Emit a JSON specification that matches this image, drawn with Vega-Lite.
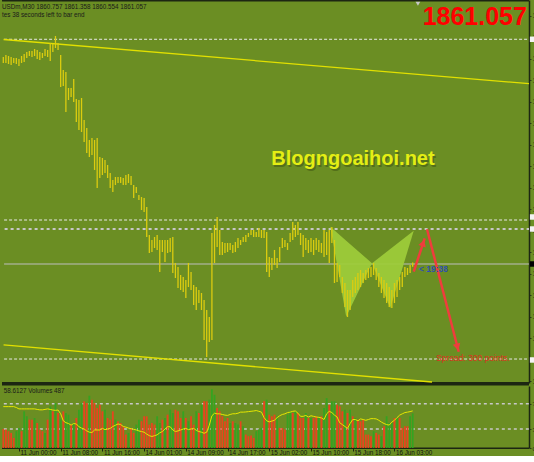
{
"$schema": "https://vega.github.io/schema/vega-lite/v6.json",
"background": "#6B8E23",
"padding": 0,
"spacing": 0,
"config": {"view": {"stroke": null}, "axis": {"grid": false}, "scale": {"continuousPadding": 0}},
"datasets": {
"bars": [
{"i":0,"h":1899.90,"l":1898.77,"v":268,"d":"dn","r":65.4},
{"i":1,"h":1900.27,"l":1898.77,"v":259,"d":"dn","r":65.4},
{"i":2,"h":1900.08,"l":1898.58,"v":236,"d":"dn","r":65.4},
{"i":3,"h":1899.90,"l":1898.39,"v":212,"d":"dn","r":65.4},
{"i":4,"h":1899.71,"l":1898.77,"v":142,"d":"dn","r":65.4},
{"i":5,"h":1899.71,"l":1898.58,"v":236,"d":"up","r":64},
{"i":6,"h":1899.52,"l":1898.21,"v":282,"d":"up","r":61.8},
{"i":7,"h":1900.08,"l":1898.77,"v":236,"d":"dn","r":61.8},
{"i":8,"h":1900.46,"l":1898.96,"v":516,"d":"up","r":61.8},
{"i":9,"h":1900.83,"l":1899.71,"v":446,"d":"up","r":61.8},
{"i":10,"h":1901.02,"l":1900.08,"v":399,"d":"dn","r":61.8},
{"i":11,"h":1901.02,"l":1899.90,"v":399,"d":"dn","r":61.8},
{"i":12,"h":1901.40,"l":1900.08,"v":422,"d":"up","r":61.8},
{"i":13,"h":1901.21,"l":1899.52,"v":352,"d":"dn","r":61},
{"i":14,"h":1900.83,"l":1899.33,"v":259,"d":"dn","r":60.3},
{"i":15,"h":1900.65,"l":1899.71,"v":236,"d":"dn","r":60.3},
{"i":16,"h":1901.40,"l":1900.08,"v":212,"d":"up","r":61},
{"i":17,"h":1901.21,"l":1899.90,"v":399,"d":"dn","r":61.8},
{"i":18,"h":1902.52,"l":1899.15,"v":586,"d":"up","r":61},
{"i":19,"h":1902.33,"l":1900.83,"v":516,"d":"dn","r":60},
{"i":20,"h":1903.84,"l":1901.58,"v":632,"d":"up","r":59.5},
{"i":21,"h":1902.52,"l":1901.21,"v":492,"d":"dn","r":60},
{"i":22,"h":1900.27,"l":1894.27,"v":399,"d":"up","r":54.1},
{"i":23,"h":1897.46,"l":1894.46,"v":516,"d":"dn","r":43},
{"i":24,"h":1897.08,"l":1889.58,"v":492,"d":"up","r":40},
{"i":25,"h":1894.08,"l":1891.83,"v":469,"d":"up","r":38.7},
{"i":26,"h":1894.08,"l":1892.39,"v":329,"d":"dn","r":36.2},
{"i":27,"h":1895.77,"l":1891.45,"v":352,"d":"up","r":38.7},
{"i":28,"h":1892.02,"l":1887.70,"v":422,"d":"dn","r":38},
{"i":29,"h":1891.83,"l":1886.20,"v":539,"d":"up","r":33.6},
{"i":30,"h":1892.20,"l":1885.82,"v":632,"d":"up","r":31.5},
{"i":31,"h":1888.08,"l":1883.95,"v":656,"d":"dn","r":30},
{"i":32,"h":1886.58,"l":1881.88,"v":632,"d":"dn","r":27},
{"i":33,"h":1884.32,"l":1881.13,"v":735,"d":"up","r":25},
{"i":34,"h":1884.70,"l":1881.51,"v":679,"d":"dn","r":24.5},
{"i":35,"h":1884.32,"l":1878.70,"v":632,"d":"dn","r":28.5},
{"i":36,"h":1884.70,"l":1875.32,"v":562,"d":"dn","r":28.5},
{"i":37,"h":1881.13,"l":1877.19,"v":609,"d":"dn","r":28.5},
{"i":38,"h":1880.95,"l":1877.76,"v":516,"d":"dn","r":31},
{"i":39,"h":1880.57,"l":1878.13,"v":539,"d":"up","r":29},
{"i":40,"h":1879.63,"l":1877.19,"v":422,"d":"dn","r":30},
{"i":41,"h":1878.13,"l":1875.32,"v":399,"d":"dn","r":31},
{"i":42,"h":1876.82,"l":1874.57,"v":516,"d":"dn","r":34},
{"i":43,"h":1877.38,"l":1875.88,"v":399,"d":"up","r":36},
{"i":44,"h":1877.38,"l":1876.26,"v":376,"d":"dn","r":38},
{"i":45,"h":1877.38,"l":1876.26,"v":352,"d":"dn","r":37},
{"i":46,"h":1877.19,"l":1875.88,"v":306,"d":"dn","r":34},
{"i":47,"h":1877.76,"l":1875.88,"v":189,"d":"dn","r":33},
{"i":48,"h":1877.94,"l":1876.26,"v":212,"d":"up","r":31.5},
{"i":49,"h":1877.57,"l":1875.88,"v":282,"d":"dn","r":30.5},
{"i":50,"h":1875.88,"l":1873.44,"v":212,"d":"dn","r":29.5},
{"i":51,"h":1875.51,"l":1874.38,"v":329,"d":"up","r":28.5},
{"i":52,"h":1874.00,"l":1873.07,"v":399,"d":"up","r":27},
{"i":53,"h":1873.63,"l":1871.19,"v":376,"d":"dn","r":26},
{"i":54,"h":1873.44,"l":1870.82,"v":446,"d":"dn","r":25},
{"i":55,"h":1871.75,"l":1866.12,"v":446,"d":"dn","r":22},
{"i":56,"h":1866.50,"l":1863.12,"v":329,"d":"dn","r":19.5},
{"i":57,"h":1865.56,"l":1863.31,"v":352,"d":"dn","r":18.2},
{"i":58,"h":1866.12,"l":1864.06,"v":329,"d":"dn","r":19.5},
{"i":59,"h":1866.50,"l":1863.69,"v":446,"d":"up","r":20.8},
{"i":60,"h":1865.56,"l":1859.56,"v":352,"d":"up","r":24},
{"i":61,"h":1865.56,"l":1863.31,"v":399,"d":"dn","r":26},
{"i":62,"h":1865.56,"l":1861.43,"v":422,"d":"up","r":30},
{"i":63,"h":1865.56,"l":1863.12,"v":469,"d":"dn","r":33.6},
{"i":64,"h":1865.94,"l":1863.31,"v":539,"d":"up","r":33.6},
{"i":65,"h":1866.12,"l":1859.37,"v":492,"d":"up","r":28.5},
{"i":66,"h":1861.25,"l":1858.43,"v":539,"d":"dn","r":26},
{"i":67,"h":1860.50,"l":1856.56,"v":516,"d":"dn","r":27},
{"i":68,"h":1858.99,"l":1856.18,"v":422,"d":"dn","r":28.5},
{"i":69,"h":1858.62,"l":1855.81,"v":516,"d":"up","r":30},
{"i":70,"h":1858.06,"l":1854.68,"v":422,"d":"dn","r":31},
{"i":71,"h":1861.25,"l":1856.74,"v":376,"d":"up","r":29},
{"i":72,"h":1859.56,"l":1856.18,"v":446,"d":"dn","r":30},
{"i":73,"h":1857.12,"l":1853.37,"v":329,"d":"dn","r":31},
{"i":74,"h":1856.74,"l":1852.43,"v":516,"d":"up","r":28},
{"i":75,"h":1856.18,"l":1853.74,"v":492,"d":"dn","r":26},
{"i":76,"h":1855.62,"l":1852.43,"v":609,"d":"up","r":25},
{"i":77,"h":1854.30,"l":1846.80,"v":656,"d":"dn","r":23.3},
{"i":78,"h":1852.43,"l":1843.61,"v":656,"d":"dn","r":25},
{"i":79,"h":1851.11,"l":1846.42,"v":679,"d":"up","r":36.2},
{"i":80,"h":1866.87,"l":1846.80,"v":828,"d":"up","r":51},
{"i":81,"h":1868.38,"l":1861.25,"v":749,"d":"up","r":55},
{"i":82,"h":1869.88,"l":1864.25,"v":562,"d":"dn","r":54},
{"i":83,"h":1867.44,"l":1862.75,"v":516,"d":"dn","r":54},
{"i":84,"h":1865.19,"l":1862.75,"v":446,"d":"dn","r":53},
{"i":85,"h":1865.00,"l":1863.12,"v":376,"d":"dn","r":52},
{"i":86,"h":1865.00,"l":1863.31,"v":422,"d":"dn","r":51.5},
{"i":87,"h":1865.00,"l":1863.69,"v":352,"d":"up","r":53},
{"i":88,"h":1864.62,"l":1863.12,"v":376,"d":"dn","r":54.1},
{"i":89,"h":1865.19,"l":1863.31,"v":352,"d":"up","r":54.1},
{"i":90,"h":1865.94,"l":1864.06,"v":329,"d":"up","r":55},
{"i":91,"h":1865.56,"l":1864.62,"v":376,"d":"dn","r":56.7},
{"i":92,"h":1866.12,"l":1865.19,"v":306,"d":"up","r":56.7},
{"i":93,"h":1866.50,"l":1865.19,"v":189,"d":"dn","r":57},
{"i":94,"h":1866.87,"l":1866.12,"v":166,"d":"dn","r":57.5},
{"i":95,"h":1867.44,"l":1866.50,"v":175,"d":"dn","r":58},
{"i":96,"h":1867.44,"l":1866.12,"v":142,"d":"dn","r":58.5},
{"i":97,"h":1867.06,"l":1866.12,"v":236,"d":"up","r":59.2},
{"i":98,"h":1867.81,"l":1866.12,"v":259,"d":"up","r":58},
{"i":99,"h":1867.44,"l":1865.94,"v":282,"d":"up","r":56.7},
{"i":100,"h":1867.44,"l":1865.94,"v":656,"d":"dn","r":48},
{"i":101,"h":1867.06,"l":1859.56,"v":679,"d":"up","r":43},
{"i":102,"h":1862.37,"l":1858.62,"v":470,"d":"dn","r":41.3},
{"i":103,"h":1862.18,"l":1859.93,"v":446,"d":"dn","r":42.5},
{"i":104,"h":1863.69,"l":1860.87,"v":469,"d":"dn","r":44},
{"i":105,"h":1862.18,"l":1860.31,"v":446,"d":"up","r":48},
{"i":106,"h":1864.25,"l":1861.43,"v":282,"d":"dn","r":51},
{"i":107,"h":1865.94,"l":1864.06,"v":282,"d":"dn","r":53},
{"i":108,"h":1865.56,"l":1864.25,"v":259,"d":"dn","r":54},
{"i":109,"h":1865.00,"l":1863.69,"v":469,"d":"up","r":56},
{"i":110,"h":1866.87,"l":1865.19,"v":516,"d":"up","r":56.7},
{"i":111,"h":1868.94,"l":1865.56,"v":492,"d":"dn","r":58},
{"i":112,"h":1868.38,"l":1866.12,"v":516,"d":"up","r":58.5},
{"i":113,"h":1868.94,"l":1866.50,"v":492,"d":"dn","r":55},
{"i":114,"h":1866.87,"l":1864.62,"v":422,"d":"dn","r":50},
{"i":115,"h":1866.50,"l":1862.37,"v":422,"d":"dn","r":50},
{"i":116,"h":1865.94,"l":1863.69,"v":492,"d":"up","r":51.5},
{"i":117,"h":1865.56,"l":1863.12,"v":422,"d":"dn","r":49},
{"i":118,"h":1865.94,"l":1863.31,"v":422,"d":"up","r":51},
{"i":119,"h":1865.56,"l":1862.75,"v":422,"d":"dn","r":50},
{"i":120,"h":1865.94,"l":1863.69,"v":446,"d":"dn","r":49},
{"i":121,"h":1865.56,"l":1863.31,"v":422,"d":"up","r":48.5},
{"i":122,"h":1865.00,"l":1863.12,"v":446,"d":"dn","r":47.5},
{"i":123,"h":1867.44,"l":1862.37,"v":562,"d":"up","r":45},
{"i":124,"h":1867.06,"l":1862.75,"v":702,"d":"up","r":54.1},
{"i":125,"h":1867.44,"l":1861.25,"v":609,"d":"dn","r":58},
{"i":126,"h":1868.00,"l":1865.00,"v":656,"d":"up","r":56},
{"i":127,"h":1865.56,"l":1857.49,"v":656,"d":"up","r":52},
{"i":128,"h":1861.25,"l":1857.68,"v":609,"d":"dn","r":49},
{"i":129,"h":1860.87,"l":1858.62,"v":586,"d":"dn","r":40},
{"i":130,"h":1858.62,"l":1855.62,"v":516,"d":"dn","r":37},
{"i":131,"h":1857.49,"l":1852.99,"v":539,"d":"up","r":34},
{"i":132,"h":1856.18,"l":1851.11,"v":492,"d":"dn","r":31},
{"i":133,"h":1856.18,"l":1852.43,"v":539,"d":"up","r":38.7},
{"i":134,"h":1858.06,"l":1854.87,"v":446,"d":"dn","r":45},
{"i":135,"h":1858.62,"l":1855.62,"v":422,"d":"up","r":45},
{"i":136,"h":1859.37,"l":1856.18,"v":399,"d":"dn","r":43},
{"i":137,"h":1859.93,"l":1856.74,"v":376,"d":"dn","r":46},
{"i":138,"h":1859.37,"l":1857.49,"v":399,"d":"dn","r":45},
{"i":139,"h":1859.93,"l":1858.06,"v":189,"d":"dn","r":43.8},
{"i":140,"h":1860.31,"l":1858.43,"v":189,"d":"dn","r":45},
{"i":141,"h":1860.50,"l":1858.62,"v":166,"d":"dn","r":46.4},
{"i":142,"h":1861.25,"l":1858.99,"v":236,"d":"up","r":46.4},
{"i":143,"h":1860.31,"l":1858.06,"v":212,"d":"dn","r":46},
{"i":144,"h":1859.37,"l":1856.74,"v":189,"d":"dn","r":43.8},
{"i":145,"h":1858.62,"l":1855.62,"v":166,"d":"up","r":41},
{"i":146,"h":1858.06,"l":1854.68,"v":306,"d":"dn","r":38.7},
{"i":147,"h":1857.49,"l":1853.74,"v":446,"d":"up","r":37},
{"i":148,"h":1856.74,"l":1852.99,"v":352,"d":"up","r":36.2},
{"i":149,"h":1856.18,"l":1852.80,"v":352,"d":"up","r":41},
{"i":150,"h":1857.49,"l":1853.74,"v":422,"d":"dn","r":43.8},
{"i":151,"h":1858.06,"l":1854.87,"v":422,"d":"up","r":48},
{"i":152,"h":1858.62,"l":1856.18,"v":422,"d":"dn","r":52},
{"i":153,"h":1859.56,"l":1856.74,"v":282,"d":"dn","r":54},
{"i":154,"h":1860.50,"l":1858.62,"v":306,"d":"dn","r":56},
{"i":155,"h":1860.31,"l":1858.99,"v":306,"d":"dn","r":56.7},
{"i":156,"h":1860.87,"l":1859.37,"v":446,"d":"up","r":57.5},
{"i":157,"h":1861.358,"l":1860.554,"v":487,"d":"up","r":58.6127}
]
},
"vconcat": [
{
"width": 527,
"height": 383,
"layer": [
{"data": {"values": [{"a":0.3,"b":201.6,"p":1903.22},{"a":0.3,"b":201.6,"p":1869.31},{"a":0.3,"b":201.6,"p":1843.23}]},
 "mark": {"type":"rule","color":"#E8E8E8","strokeWidth":1,"strokeDash":[3,2]},
 "encoding": {"x": {"field":"a","type":"quantitative","scale":{"domain":[-0.5,201.6],"zero":false,"nice":false,"padding":0},"axis":null},
  "x2": {"field":"b"},
  "y": {"field":"p","type":"quantitative","scale":{"domain":[1838.73,1910.59],"zero":false,"nice":false},
   "axis":{"orient":"right","title":null,"values":[1907.66,1903.63,1899.59,1895.56,1891.52,1887.49,1883.45,1879.42,1875.39,1871.35,1867.32,1863.28,1859.25,1855.21,1851.18,1847.14,1843.11,1839.08],"labelExpr":"'1'","labelFontSize":7,"labelColor":"#1E2A12","labelPadding":1,"tickSize":2,"tickColor":"#2E3A1C","domainColor":"#1C2612","domainWidth":1.5,"labelBound":false,"labelOverlap":false,"labelFlush":false}}}},
{"data": {"values": [{"a":0.5,"b":201.6,"p":1867.62}]},
 "mark": {"type":"rule","color":"#C6C6C6","strokeWidth":2,"strokeDash":[3,3]},
 "encoding": {"x": {"field":"a","type":"quantitative","scale":{"domain":[-0.5,201.6],"zero":false,"nice":false,"padding":0},"axis":null},
  "x2": {"field":"b"},
  "y": {"field":"p","type":"quantitative","scale":{"domain":[1838.73,1910.59],"zero":false,"nice":false},
   "axis":{"orient":"right","title":null,"values":[1907.66,1903.63,1899.59,1895.56,1891.52,1887.49,1883.45,1879.42,1875.39,1871.35,1867.32,1863.28,1859.25,1855.21,1851.18,1847.14,1843.11,1839.08],"labelExpr":"'1'","labelFontSize":7,"labelColor":"#1E2A12","labelPadding":1,"tickSize":2,"tickColor":"#2E3A1C","domainColor":"#1C2612","domainWidth":1.5,"labelBound":false,"labelOverlap":false,"labelFlush":false}}}},
{"data": {"values": [{"a":0.3,"b":201.6,"p":1861.057}]},
 "mark": {"type":"rule","color":"#BEBEBE","strokeWidth":1},
 "encoding": {"x": {"field":"a","type":"quantitative","scale":{"domain":[-0.5,201.6],"zero":false,"nice":false,"padding":0},"axis":null},
  "x2": {"field":"b"},
  "y": {"field":"p","type":"quantitative","scale":{"domain":[1838.73,1910.59],"zero":false,"nice":false},
   "axis":{"orient":"right","title":null,"values":[1907.66,1903.63,1899.59,1895.56,1891.52,1887.49,1883.45,1879.42,1875.39,1871.35,1867.32,1863.28,1859.25,1855.21,1851.18,1847.14,1843.11,1839.08],"labelExpr":"'1'","labelFontSize":7,"labelColor":"#1E2A12","labelPadding":1,"tickSize":2,"tickColor":"#2E3A1C","domainColor":"#1C2612","domainWidth":1.5,"labelBound":false,"labelOverlap":false,"labelFlush":false}}}},
{"data": {"values": [{"a":-0.5,"b":201.6,"p":1910.59,"p2":1910.31},{"a":-0.5,"b":201.6,"p":1838.92,"p2":1838.26}]},
 "mark": {"type":"rect","color":"#1C2612"},
 "encoding": {"x": {"field":"a","type":"quantitative","scale":{"domain":[-0.5,201.6],"zero":false,"nice":false,"padding":0},"axis":null},
  "x2": {"field":"b"},
  "y": {"field":"p","type":"quantitative","scale":{"domain":[1838.73,1910.59],"zero":false,"nice":false},
   "axis":{"orient":"right","title":null,"values":[1907.66,1903.63,1899.59,1895.56,1891.52,1887.49,1883.45,1879.42,1875.39,1871.35,1867.32,1863.28,1859.25,1855.21,1851.18,1847.14,1843.11,1839.08],"labelExpr":"'1'","labelFontSize":7,"labelColor":"#1E2A12","labelPadding":1,"tickSize":2,"tickColor":"#2E3A1C","domainColor":"#1C2612","domainWidth":1.5,"labelBound":false,"labelOverlap":false,"labelFlush":false}},
  "y2": {"field":"p2"}}},
{"data": {"values": [{"c":"u","i":0.1,"p":1903.18},{"c":"u","i":201.6,"p":1894.89},{"c":"l","i":0.1,"p":1845.88},{"c":"l","i":164.4,"p":1838.92}]},
 "mark": {"type":"line","color":"#E2E000","strokeWidth":1.3},
 "encoding": {"x": {"field":"i","type":"quantitative","scale":{"domain":[-0.5,201.6],"zero":false,"nice":false,"padding":0},"axis":null},
  "y": {"field":"p","type":"quantitative","scale":{"domain":[1838.73,1910.59],"zero":false,"nice":false},
   "axis":{"orient":"right","title":null,"values":[1907.66,1903.63,1899.59,1895.56,1891.52,1887.49,1883.45,1879.42,1875.39,1871.35,1867.32,1863.28,1859.25,1855.21,1851.18,1847.14,1843.11,1839.08],"labelExpr":"'1'","labelFontSize":7,"labelColor":"#1E2A12","labelPadding":1,"tickSize":2,"tickColor":"#2E3A1C","domainColor":"#1C2612","domainWidth":1.5,"labelBound":false,"labelOverlap":false,"labelFlush":false}},
  "detail": {"field":"c","type":"nominal"}}},
{"data": {"values": [{"t":1,"i":125.4,"a":1868.06,"b":1868.06},{"t":1,"i":131.5,"a":1865.44,"b":1851.17},{"t":1,"i":141.4,"a":1861.19,"b":1861.19},{"t":2,"i":141.4,"a":1861.19,"b":1861.19},{"t":2,"i":148.4,"a":1863.87,"b":1852.75},{"t":2,"i":157.4,"a":1867.31,"b":1867.31}]},
 "mark": {"type":"area","color":"#9DCB3A","opacity":0.95},
 "encoding": {"x": {"field":"i","type":"quantitative","scale":{"domain":[-0.5,201.6],"zero":false,"nice":false,"padding":0},"axis":null},
  "y": {"field":"a","type":"quantitative","scale":{"domain":[1838.73,1910.59],"zero":false,"nice":false},
   "axis":{"orient":"right","title":null,"values":[1907.66,1903.63,1899.59,1895.56,1891.52,1887.49,1883.45,1879.42,1875.39,1871.35,1867.32,1863.28,1859.25,1855.21,1851.18,1847.14,1843.11,1839.08],"labelExpr":"'1'","labelFontSize":7,"labelColor":"#1E2A12","labelPadding":1,"tickSize":2,"tickColor":"#2E3A1C","domainColor":"#1C2612","domainWidth":1.5,"labelBound":false,"labelOverlap":false,"labelFlush":false}},
  "y2": {"field":"b"},
  "detail": {"field":"t","type":"nominal"}}},
{"data": {"name":"bars"},
 "mark": {"type":"rule","color":"#DCCC10","strokeWidth":1.3},
 "encoding": {"x": {"field":"i","type":"quantitative","scale":{"domain":[-0.5,201.6],"zero":false,"nice":false,"padding":0},"axis":null},
  "y": {"field":"h","type":"quantitative","scale":{"domain":[1838.73,1910.59],"zero":false,"nice":false},
   "axis":{"orient":"right","title":null,"values":[1907.66,1903.63,1899.59,1895.56,1891.52,1887.49,1883.45,1879.42,1875.39,1871.35,1867.32,1863.28,1859.25,1855.21,1851.18,1847.14,1843.11,1839.08],"labelExpr":"'1'","labelFontSize":7,"labelColor":"#1E2A12","labelPadding":1,"tickSize":2,"tickColor":"#2E3A1C","domainColor":"#1C2612","domainWidth":1.5,"labelBound":false,"labelOverlap":false,"labelFlush":false}},
  "y2": {"field":"l"}}},
{"data": {"values": [{"i":157.4,"p":1859.61,"i2":161.6,"p2":1865.88},{"i":162.5,"p":1867.57,"i2":174.64,"p2":1844.6}]},
 "mark": {"type":"rule","color":"#F03C3C","strokeWidth":2.5},
 "encoding": {"x": {"field":"i","type":"quantitative","scale":{"domain":[-0.5,201.6],"zero":false,"nice":false,"padding":0},"axis":null},
  "x2": {"field":"i2"},
  "y": {"field":"p","type":"quantitative","scale":{"domain":[1838.73,1910.59],"zero":false,"nice":false},
   "axis":{"orient":"right","title":null,"values":[1907.66,1903.63,1899.59,1895.56,1891.52,1887.49,1883.45,1879.42,1875.39,1871.35,1867.32,1863.28,1859.25,1855.21,1851.18,1847.14,1843.11,1839.08],"labelExpr":"'1'","labelFontSize":7,"labelColor":"#1E2A12","labelPadding":1,"tickSize":2,"tickColor":"#2E3A1C","domainColor":"#1C2612","domainWidth":1.5,"labelBound":false,"labelOverlap":false,"labelFlush":false}},
  "y2": {"field":"p2"}}},
{"data": {"values": [{"i":161.0,"p":1864.98}]},
 "mark": {"type":"point","shape":"triangle-up","filled":true,"color":"#F03C3C","size":60,"angle":18,"opacity":1},
 "encoding": {"x": {"field":"i","type":"quantitative","scale":{"domain":[-0.5,201.6],"zero":false,"nice":false,"padding":0},"axis":null},
  "y": {"field":"p","type":"quantitative","scale":{"domain":[1838.73,1910.59],"zero":false,"nice":false},
   "axis":{"orient":"right","title":null,"values":[1907.66,1903.63,1899.59,1895.56,1891.52,1887.49,1883.45,1879.42,1875.39,1871.35,1867.32,1863.28,1859.25,1855.21,1851.18,1847.14,1843.11,1839.08],"labelExpr":"'1'","labelFontSize":7,"labelColor":"#1E2A12","labelPadding":1,"tickSize":2,"tickColor":"#2E3A1C","domainColor":"#1C2612","domainWidth":1.5,"labelBound":false,"labelOverlap":false,"labelFlush":false}}}},
{"data": {"values": [{"i":174.14,"p":1845.5}]},
 "mark": {"type":"point","shape":"triangle-up","filled":true,"color":"#F03C3C","size":60,"angle":165,"opacity":1},
 "encoding": {"x": {"field":"i","type":"quantitative","scale":{"domain":[-0.5,201.6],"zero":false,"nice":false,"padding":0},"axis":null},
  "y": {"field":"p","type":"quantitative","scale":{"domain":[1838.73,1910.59],"zero":false,"nice":false},
   "axis":{"orient":"right","title":null,"values":[1907.66,1903.63,1899.59,1895.56,1891.52,1887.49,1883.45,1879.42,1875.39,1871.35,1867.32,1863.28,1859.25,1855.21,1851.18,1847.14,1843.11,1839.08],"labelExpr":"'1'","labelFontSize":7,"labelColor":"#1E2A12","labelPadding":1,"tickSize":2,"tickColor":"#2E3A1C","domainColor":"#1C2612","domainWidth":1.5,"labelBound":false,"labelOverlap":false,"labelFlush":false}}}},
{"data": {"values": [{"i":-0.5,"p":1909.28,"t":"USDm,M30  1860.757 1861.358 1860.554 1861.057"},{"i":-0.5,"p":1907.78,"t":"tes 38 seconds left to bar end"}]},
 "mark": {"type":"text","align":"left","baseline":"middle","font":"Liberation Sans","fontSize":6.3,"color":"#1A1A1A"},
 "encoding": {"x": {"field":"i","type":"quantitative","scale":{"domain":[-0.5,201.6],"zero":false,"nice":false,"padding":0},"axis":null},
  "y": {"field":"p","type":"quantitative","scale":{"domain":[1838.73,1910.59],"zero":false,"nice":false},
   "axis":{"orient":"right","title":null,"values":[1907.66,1903.63,1899.59,1895.56,1891.52,1887.49,1883.45,1879.42,1875.39,1871.35,1867.32,1863.28,1859.25,1855.21,1851.18,1847.14,1843.11,1839.08],"labelExpr":"'1'","labelFontSize":7,"labelColor":"#1E2A12","labelPadding":1,"tickSize":2,"tickColor":"#2E3A1C","domainColor":"#1C2612","domainWidth":1.5,"labelBound":false,"labelOverlap":false,"labelFlush":false}},
  "text": {"field":"t"}}},
{"data": {"values": [{"i":200.8,"p":1907.4,"t":"1861.057"}]},
 "mark": {"type":"text","align":"right","baseline":"middle","font":"Liberation Sans","fontSize":25,"fontWeight":"bold","color":"#FF0000"},
 "encoding": {"x": {"field":"i","type":"quantitative","scale":{"domain":[-0.5,201.6],"zero":false,"nice":false,"padding":0},"axis":null},
  "y": {"field":"p","type":"quantitative","scale":{"domain":[1838.73,1910.59],"zero":false,"nice":false},
   "axis":{"orient":"right","title":null,"values":[1907.66,1903.63,1899.59,1895.56,1891.52,1887.49,1883.45,1879.42,1875.39,1871.35,1867.32,1863.28,1859.25,1855.21,1851.18,1847.14,1843.11,1839.08],"labelExpr":"'1'","labelFontSize":7,"labelColor":"#1E2A12","labelPadding":1,"tickSize":2,"tickColor":"#2E3A1C","domainColor":"#1C2612","domainWidth":1.5,"labelBound":false,"labelOverlap":false,"labelFlush":false}},
  "text": {"field":"t"}}},
{"data": {"values": [{"i":134.1,"p":1880.7,"t":"Blogngoaihoi.net"}]},
 "mark": {"type":"text","align":"center","baseline":"middle","font":"Liberation Sans","fontSize":20,"fontWeight":"bold","color":"#4E6818","dx":1.5,"dy":1.5,"opacity":0.8},
 "encoding": {"x": {"field":"i","type":"quantitative","scale":{"domain":[-0.5,201.6],"zero":false,"nice":false,"padding":0},"axis":null},
  "y": {"field":"p","type":"quantitative","scale":{"domain":[1838.73,1910.59],"zero":false,"nice":false},
   "axis":{"orient":"right","title":null,"values":[1907.66,1903.63,1899.59,1895.56,1891.52,1887.49,1883.45,1879.42,1875.39,1871.35,1867.32,1863.28,1859.25,1855.21,1851.18,1847.14,1843.11,1839.08],"labelExpr":"'1'","labelFontSize":7,"labelColor":"#1E2A12","labelPadding":1,"tickSize":2,"tickColor":"#2E3A1C","domainColor":"#1C2612","domainWidth":1.5,"labelBound":false,"labelOverlap":false,"labelFlush":false}},
  "text": {"field":"t"}}},
{"data": {"values": [{"i":134.1,"p":1880.7,"t":"Blogngoaihoi.net"}]},
 "mark": {"type":"text","align":"center","baseline":"middle","font":"Liberation Sans","fontSize":20,"fontWeight":"bold","color":"#E4EE14"},
 "encoding": {"x": {"field":"i","type":"quantitative","scale":{"domain":[-0.5,201.6],"zero":false,"nice":false,"padding":0},"axis":null},
  "y": {"field":"p","type":"quantitative","scale":{"domain":[1838.73,1910.59],"zero":false,"nice":false},
   "axis":{"orient":"right","title":null,"values":[1907.66,1903.63,1899.59,1895.56,1891.52,1887.49,1883.45,1879.42,1875.39,1871.35,1867.32,1863.28,1859.25,1855.21,1851.18,1847.14,1843.11,1839.08],"labelExpr":"'1'","labelFontSize":7,"labelColor":"#1E2A12","labelPadding":1,"tickSize":2,"tickColor":"#2E3A1C","domainColor":"#1C2612","domainWidth":1.5,"labelBound":false,"labelOverlap":false,"labelFlush":false}},
  "text": {"field":"t"}}},
{"data": {"values": [{"i":159.4,"p":1860.12,"t":"< 19:38"}]},
 "mark": {"type":"text","align":"left","baseline":"middle","font":"Liberation Sans","fontSize":8.5,"fontWeight":"bold","color":"#3050B0"},
 "encoding": {"x": {"field":"i","type":"quantitative","scale":{"domain":[-0.5,201.6],"zero":false,"nice":false,"padding":0},"axis":null},
  "y": {"field":"p","type":"quantitative","scale":{"domain":[1838.73,1910.59],"zero":false,"nice":false},
   "axis":{"orient":"right","title":null,"values":[1907.66,1903.63,1899.59,1895.56,1891.52,1887.49,1883.45,1879.42,1875.39,1871.35,1867.32,1863.28,1859.25,1855.21,1851.18,1847.14,1843.11,1839.08],"labelExpr":"'1'","labelFontSize":7,"labelColor":"#1E2A12","labelPadding":1,"tickSize":2,"tickColor":"#2E3A1C","domainColor":"#1C2612","domainWidth":1.5,"labelBound":false,"labelOverlap":false,"labelFlush":false}},
  "text": {"field":"t"}}},
{"data": {"values": [{"i":165.9,"p":1843.42,"t":"Spread: 300 points."}]},
 "mark": {"type":"text","align":"left","baseline":"middle","font":"Liberation Sans","fontSize":8.5,"color":"#DC3220"},
 "encoding": {"x": {"field":"i","type":"quantitative","scale":{"domain":[-0.5,201.6],"zero":false,"nice":false,"padding":0},"axis":null},
  "y": {"field":"p","type":"quantitative","scale":{"domain":[1838.73,1910.59],"zero":false,"nice":false},
   "axis":{"orient":"right","title":null,"values":[1907.66,1903.63,1899.59,1895.56,1891.52,1887.49,1883.45,1879.42,1875.39,1871.35,1867.32,1863.28,1859.25,1855.21,1851.18,1847.14,1843.11,1839.08],"labelExpr":"'1'","labelFontSize":7,"labelColor":"#1E2A12","labelPadding":1,"tickSize":2,"tickColor":"#2E3A1C","domainColor":"#1C2612","domainWidth":1.5,"labelBound":false,"labelOverlap":false,"labelFlush":false}},
  "text": {"field":"t"}}},
{"data": {"values": [{"i":203,"p":1903.22},{"i":203,"p":1869.88},{"i":203,"p":1867.62},{"i":203,"p":1843.05}]},
 "mark": {"type":"point","shape":"square","filled":true,"color":"#F4F4F4","size":30,"opacity":1},
 "encoding": {"x": {"field":"i","type":"quantitative","scale":{"domain":[-0.5,201.6],"zero":false,"nice":false,"padding":0},"axis":null},
  "y": {"field":"p","type":"quantitative","scale":{"domain":[1838.73,1910.59],"zero":false,"nice":false},
   "axis":{"orient":"right","title":null,"values":[1907.66,1903.63,1899.59,1895.56,1891.52,1887.49,1883.45,1879.42,1875.39,1871.35,1867.32,1863.28,1859.25,1855.21,1851.18,1847.14,1843.11,1839.08],"labelExpr":"'1'","labelFontSize":7,"labelColor":"#1E2A12","labelPadding":1,"tickSize":2,"tickColor":"#2E3A1C","domainColor":"#1C2612","domainWidth":1.5,"labelBound":false,"labelOverlap":false,"labelFlush":false}}}},
{"data": {"values": [{"i":203,"p":1861.057}]},
 "mark": {"type":"point","shape":"square","filled":true,"color":"#000000","size":30,"opacity":1},
 "encoding": {"x": {"field":"i","type":"quantitative","scale":{"domain":[-0.5,201.6],"zero":false,"nice":false,"padding":0},"axis":null},
  "y": {"field":"p","type":"quantitative","scale":{"domain":[1838.73,1910.59],"zero":false,"nice":false},
   "axis":{"orient":"right","title":null,"values":[1907.66,1903.63,1899.59,1895.56,1891.52,1887.49,1883.45,1879.42,1875.39,1871.35,1867.32,1863.28,1859.25,1855.21,1851.18,1847.14,1843.11,1839.08],"labelExpr":"'1'","labelFontSize":7,"labelColor":"#1E2A12","labelPadding":1,"tickSize":2,"tickColor":"#2E3A1C","domainColor":"#1C2612","domainWidth":1.5,"labelBound":false,"labelOverlap":false,"labelFlush":false}}}},
{"data": {"values": [{"i":159,"p":1909.9}]},
 "mark": {"type":"point","shape":"triangle-down","filled":true,"color":"#C8C8C8","size":22,"opacity":1},
 "encoding": {"x": {"field":"i","type":"quantitative","scale":{"domain":[-0.5,201.6],"zero":false,"nice":false,"padding":0},"axis":null},
  "y": {"field":"p","type":"quantitative","scale":{"domain":[1838.73,1910.59],"zero":false,"nice":false},
   "axis":{"orient":"right","title":null,"values":[1907.66,1903.63,1899.59,1895.56,1891.52,1887.49,1883.45,1879.42,1875.39,1871.35,1867.32,1863.28,1859.25,1855.21,1851.18,1847.14,1843.11,1839.08],"labelExpr":"'1'","labelFontSize":7,"labelColor":"#1E2A12","labelPadding":1,"tickSize":2,"tickColor":"#2E3A1C","domainColor":"#1C2612","domainWidth":1.5,"labelBound":false,"labelOverlap":false,"labelFlush":false}}}}
]
},
{
"width": 527,
"height": 62,
"resolve": {"scale": {"y": "independent"}},
"layer": [
{"data": {"values": [{"a":0.2,"b":201.6,"r":70},{"a":0.2,"b":201.6,"r":30}]},
 "mark": {"type":"rule","color":"#C8C8C8","strokeWidth":1.5,"strokeDash":[3,3]},
 "encoding": {"x": {"field":"a","type":"quantitative","scale":{"domain":[-0.5,201.6],"zero":false,"nice":false,"padding":0},
   "axis":{"orient":"bottom","title":null,"domain":false,"values":[6,22,38,54,70,86,102,118,134,150],"labelExpr":"['11 Jun 00:00','11 Jun 08:00','11 Jun 16:00','14 Jun 01:00','14 Jun 09:00','14 Jun 17:00','15 Jun 02:00','15 Jun 10:00','15 Jun 18:00','16 Jun 03:00'][(datum.value-6)/16]","labelAlign":"left","labelBaseline":"top","labelPadding":-1.8,"labelOffset":1,"labelFont":"Liberation Sans","labelFontSize":6.3,"labelColor":"#111111","tickSize":3,"tickColor":"#1C2612","labelOverlap":false,"labelFlush":false,"labelBound":false}},
  "x2": {"field":"b"},
  "y": {"field":"r","type":"quantitative","scale":{"domain":[0,98],"zero":false,"nice":false},"axis":null}}},
{"data": {"values": [{"a":-0.5,"b":201.6,"r":0.6,"r2":-1.7}]},
 "mark": {"type":"rect","color":"#1C2612"},
 "encoding": {"x": {"field":"a","type":"quantitative","scale":{"domain":[-0.5,201.6],"zero":false,"nice":false,"padding":0},
   "axis":{"orient":"bottom","title":null,"domain":false,"values":[6,22,38,54,70,86,102,118,134,150],"labelExpr":"['11 Jun 00:00','11 Jun 08:00','11 Jun 16:00','14 Jun 01:00','14 Jun 09:00','14 Jun 17:00','15 Jun 02:00','15 Jun 10:00','15 Jun 18:00','16 Jun 03:00'][(datum.value-6)/16]","labelAlign":"left","labelBaseline":"top","labelPadding":-1.8,"labelOffset":1,"labelFont":"Liberation Sans","labelFontSize":6.3,"labelColor":"#111111","tickSize":3,"tickColor":"#1C2612","labelOverlap":false,"labelFlush":false,"labelBound":false}},
  "x2": {"field":"b"},
  "y": {"field":"r","type":"quantitative","scale":{"domain":[0,98],"zero":false,"nice":false},"axis":null},
  "y2": {"field":"r2"}}},
{"data": {"name":"bars"},
 "mark": {"type":"bar","width":1.8},
 "encoding": {"x": {"field":"i","type":"quantitative","scale":{"domain":[-0.5,201.6],"zero":false,"nice":false,"padding":0},
   "axis":{"orient":"bottom","title":null,"domain":false,"values":[6,22,38,54,70,86,102,118,134,150],"labelExpr":"['11 Jun 00:00','11 Jun 08:00','11 Jun 16:00','14 Jun 01:00','14 Jun 09:00','14 Jun 17:00','15 Jun 02:00','15 Jun 10:00','15 Jun 18:00','16 Jun 03:00'][(datum.value-6)/16]","labelAlign":"left","labelBaseline":"top","labelPadding":-1.8,"labelOffset":1,"labelFont":"Liberation Sans","labelFontSize":6.3,"labelColor":"#111111","tickSize":3,"tickColor":"#1C2612","labelOverlap":false,"labelFlush":false,"labelBound":false}},
  "y": {"field":"v","type":"quantitative","stack":null,"scale":{"domain":[0,872],"nice":false},"axis":null},
  "color": {"field":"d","type":"nominal","scale":{"domain":["up","dn"],"range":["#35A321","#E8441E"]},"legend":null}}},
{"data": {"name":"bars"},
 "mark": {"type":"line","color":"#E6E600","strokeWidth":1},
 "encoding": {"x": {"field":"i","type":"quantitative","scale":{"domain":[-0.5,201.6],"zero":false,"nice":false,"padding":0},
   "axis":{"orient":"bottom","title":null,"domain":false,"values":[6,22,38,54,70,86,102,118,134,150],"labelExpr":"['11 Jun 00:00','11 Jun 08:00','11 Jun 16:00','14 Jun 01:00','14 Jun 09:00','14 Jun 17:00','15 Jun 02:00','15 Jun 10:00','15 Jun 18:00','16 Jun 03:00'][(datum.value-6)/16]","labelAlign":"left","labelBaseline":"top","labelPadding":-1.8,"labelOffset":1,"labelFont":"Liberation Sans","labelFontSize":6.3,"labelColor":"#111111","tickSize":3,"tickColor":"#1C2612","labelOverlap":false,"labelFlush":false,"labelBound":false}},
  "y": {"field":"r","type":"quantitative","scale":{"domain":[0,98],"zero":false,"nice":false},
   "axis":{"orient":"right","title":null,"values":[0,30,70],"labelExpr":"datum.value==70?'7':datum.value==30?'3':'0'","labelFontSize":6,"labelColor":"#1E2A12","labelPadding":1,"tickSize":2,"tickColor":"#2E3A1C","domainColor":"#1C2612","domainWidth":1.5,"labelBound":false,"labelOverlap":false,"labelFlush":false}}}},
{"data": {"values": [{"i":0.15,"r":90.5,"t":"58.6127  Volumes 487"}]},
 "mark": {"type":"text","align":"left","baseline":"middle","font":"Liberation Sans","fontSize":6.3,"color":"#1A1A1A"},
 "encoding": {"x": {"field":"i","type":"quantitative","scale":{"domain":[-0.5,201.6],"zero":false,"nice":false,"padding":0},
   "axis":{"orient":"bottom","title":null,"domain":false,"values":[6,22,38,54,70,86,102,118,134,150],"labelExpr":"['11 Jun 00:00','11 Jun 08:00','11 Jun 16:00','14 Jun 01:00','14 Jun 09:00','14 Jun 17:00','15 Jun 02:00','15 Jun 10:00','15 Jun 18:00','16 Jun 03:00'][(datum.value-6)/16]","labelAlign":"left","labelBaseline":"top","labelPadding":-1.8,"labelOffset":1,"labelFont":"Liberation Sans","labelFontSize":6.3,"labelColor":"#111111","tickSize":3,"tickColor":"#1C2612","labelOverlap":false,"labelFlush":false,"labelBound":false}},
  "y": {"field":"r","type":"quantitative","scale":{"domain":[0,98],"zero":false,"nice":false},"axis":null},
  "text": {"field":"t"}}}
]
}
]
}
